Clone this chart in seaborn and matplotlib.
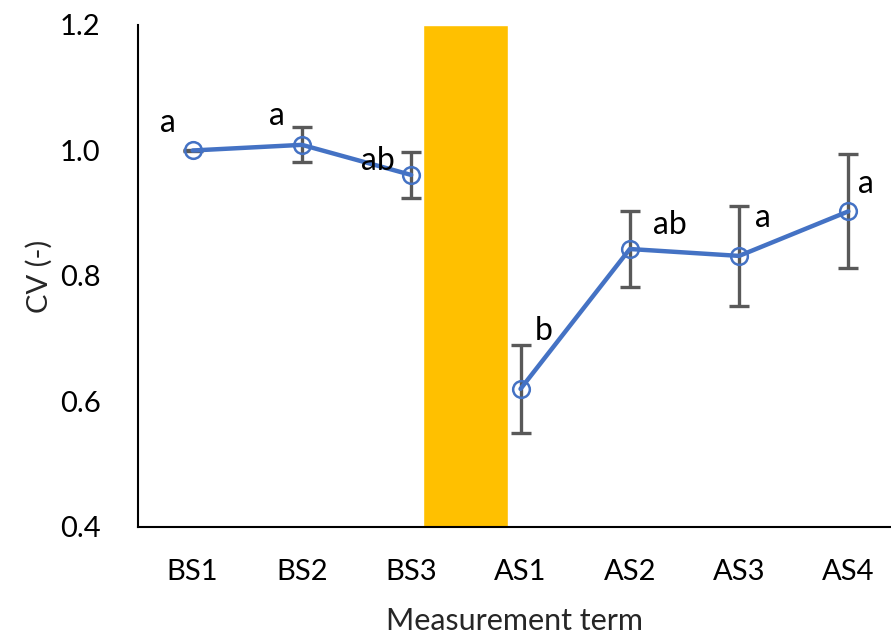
import matplotlib
matplotlib.use("Agg")
import matplotlib.pyplot as plt
import seaborn as sns
import pandas as pd

terms = ["BS1", "BS2", "BS3", "AS1", "AS2", "AS3", "AS4"]
phase = ["before", "before", "before", "after", "after", "after", "after"]
cv_mean = [1.000, 1.009, 0.961, 0.620, 0.843, 0.832, 0.903]
cv_err = [0.001, 0.028, 0.036, 0.070, 0.061, 0.080, 0.091]
groups = ["a", "a", "ab", "b", "ab", "a", "a"]
# letter offsets (points) relative to each mean
label_dx = [-18, -18, -24, 17, 29, 17, 13]
label_dy = [20, 21, 10, 42, 17, 27, 20]

# intervention period between BS3 and AS1
event_pos = 2.5
event_lo, event_hi = 0.4, 1.2

sns.set_theme(style="white")
plt.rcParams["font.family"] = ["Lato", "DejaVu Sans"]

df = pd.DataFrame({"pos": range(len(terms)), "cv": cv_mean, "phase": phase})

fig = plt.figure(figsize=(8.91, 6.44), dpi=100)
ax = fig.add_axes([0.1549, 0.1817, 0.8451, 0.7795])

ax.bar(event_pos, event_hi - event_lo, bottom=event_lo, width=0.78,
       color="#FFC000", zorder=1)

ax.errorbar(df["pos"], df["cv"], yerr=cv_err, fmt="none", ecolor="#595959",
            elinewidth=2.4, capsize=7, capthick=2.4, zorder=2)

sns.lineplot(data=df, x="pos", y="cv", units="phase", estimator=None, ax=ax,
             color="#4472C4", linewidth=3.2, marker="o", markersize=12,
             markerfacecolor="none", markeredgecolor="#4472C4",
             markeredgewidth=1.8, zorder=3)

for i, g in enumerate(groups):
    ax.annotate(g, (i, cv_mean[i]), xytext=(label_dx[i], label_dy[i]),
                textcoords="offset points", ha="center", va="center",
                fontsize=23, color="black")

ax.set_xlim(-0.5, 6.39)
ax.set_ylim(0.4, 1.2)
ax.set_yticks([0.4, 0.6, 0.8, 1.0, 1.2])
ax.set_yticklabels(["0.4", "0.6", "0.8", "1.0", "1.2"])
ax.set_xticks(range(len(terms)))
ax.set_xticklabels(terms)
ax.tick_params(axis="both", length=0, labelsize=21, colors="black")
ax.tick_params(axis="y", pad=27)
ax.tick_params(axis="x", pad=23)

ax.set_xlabel("Measurement term", fontsize=22, labelpad=16)
ax.set_ylabel("CV (-)", fontsize=21, labelpad=5)

for side in ["top", "right"]:
    ax.spines[side].set_visible(False)
for side in ["left", "bottom"]:
    ax.spines[side].set_color("black")
    ax.spines[side].set_linewidth(1.5)

fig.savefig("out.png", dpi=100)
